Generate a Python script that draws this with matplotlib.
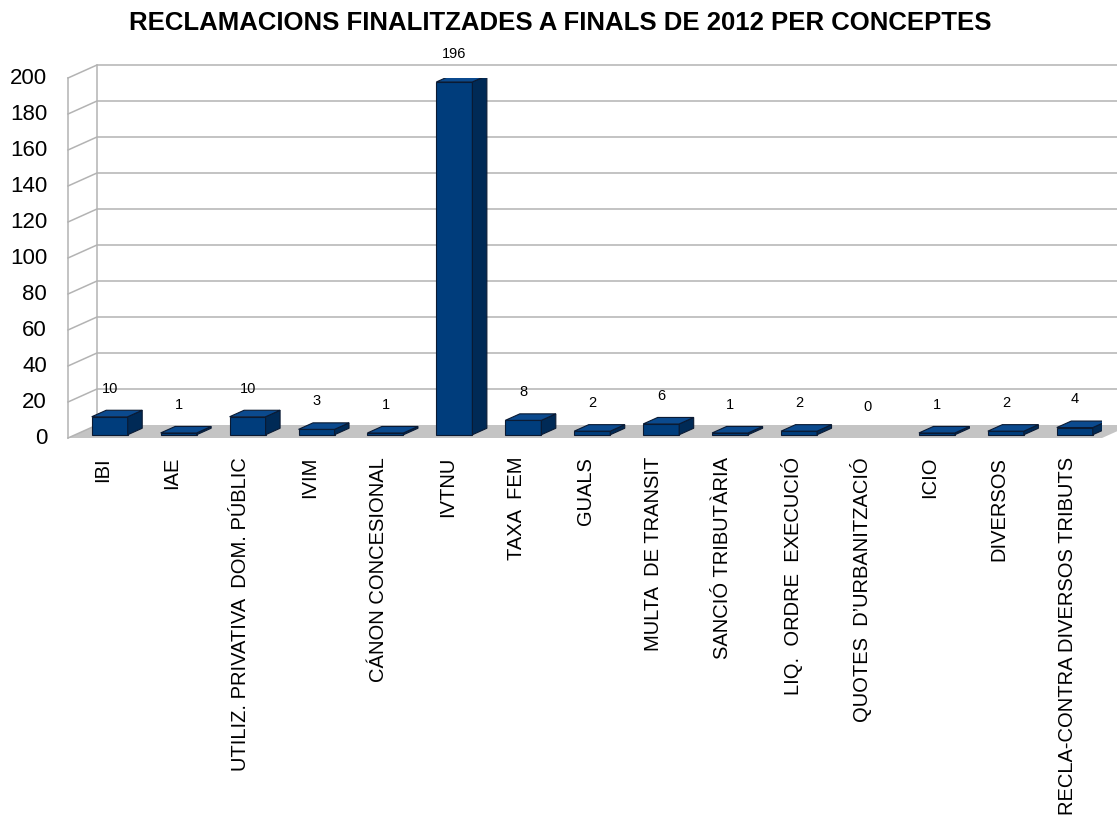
import matplotlib
matplotlib.use("Agg")
import matplotlib.pyplot as plt
from matplotlib.patches import Polygon

plt.rcParams['font.family'] = ['Liberation Sans', 'DejaVu Sans']

title = "RECLAMACIONS FINALITZADES A FINALS DE 2012 PER CONCEPTES"
categories = ["IBI", "IAE", "UTILIZ. PRIVATIVA  DOM. PÚBLIC", "IVIM", "CÁNON CONCESIONAL",
              "IVTNU", "TAXA  FEM", "GUALS", "MULTA  DE TRANSIT", "SANCIÓ TRIBUTÀRIA",
              "LIQ.  ORDRE  EXECUCIÓ", "QUOTES  D’URBANITZACIÓ", "ICIO", "DIVERSOS",
              "RECLA-CONTRA DIVERSOS TRIBUTS"]
values = [10, 1, 10, 3, 1, 196, 8, 2, 6, 1, 2, 0, 1, 2, 4]
yticks = [0, 20, 40, 60, 80, 100, 120, 140, 160, 180, 200]

W, H = 1117, 821
fig = plt.figure(figsize=(W / 100, H / 100), dpi=100)
x0p, x1p, y0p, y1p = 68, 1102, 438, 78
ax = fig.add_axes([x0p / W, (H - y0p) / H, (x1p - x0p) / W, (y0p - y1p) / H])
n = len(categories)
xmin, xmax = -0.5, n - 0.5
ymin, ymax = 0, 200
ax.set_xlim(xmin, xmax)
ax.set_ylim(ymin, ymax)
ax.axis('off')

pxu = (x1p - x0p) / (xmax - xmin)
pyu = (y0p - y1p) / (ymax - ymin)
Dx, Dy = 29 / pxu, 13 / pyu

grid_c = '#b3b3b3'
# floor
ax.add_patch(Polygon([(xmin, 0), (xmax, 0), (xmax + Dx, Dy), (xmin + Dx, Dy)],
                     closed=True, facecolor='#c4c4c4', edgecolor='none', clip_on=False, zorder=1))
# gridlines on back wall and left wall
for v in yticks:
    if v > 0:
        ax.plot([xmin, xmin + Dx, xmax + Dx], [v, v + Dy, v + Dy], color=grid_c, lw=1.1,
                clip_on=False, zorder=2)
ax.plot([xmin, xmin], [0, ymax], color=grid_c, lw=1.1, clip_on=False, zorder=2)
ax.plot([xmin + Dx, xmin + Dx], [Dy, ymax + Dy], color=grid_c, lw=1.1, clip_on=False, zorder=2)
ax.plot([xmin, xmin + Dx], [0, Dy], color=grid_c, lw=1.1, clip_on=False, zorder=2)

# y tick labels
for v in yticks:
    ax.text(xmin - 21 / pxu, v, str(v), ha='right', va='center', fontsize=16, color='black')

front_c, side_c, top_c, edge_c = '#003d7c', '#002a56', '#0b4a8e', '#0a1a33'
bw = 36 / pxu
for i, v in enumerate(values):
    cx = i + 0.25 * Dx
    b = 0.25 * Dy
    xl, xr = cx - bw / 2, cx + bw / 2
    dx, dy = 0.5 * Dx, 0.5 * Dy
    if v > 0:
        ax.bar(cx, v, width=bw, bottom=b, color=front_c, edgecolor=edge_c, linewidth=0.8, zorder=3)
        ax.add_patch(Polygon([(xr, b), (xr + dx, b + dy), (xr + dx, b + v + dy), (xr, b + v)],
                             closed=True, facecolor=side_c, edgecolor=edge_c, lw=0.8, zorder=3))
        ax.add_patch(Polygon([(xl, b + v), (xr, b + v), (xr + dx, b + v + dy), (xl + dx, b + v + dy)],
                             closed=True, facecolor=top_c, edgecolor=edge_c, lw=0.8, zorder=3))
    ax.text(cx, v + 17.5, str(v), ha='center', va='center', fontsize=10.5, color='black', zorder=4)
    ax.text(i, -10.5, categories[i], rotation=90, ha='center', va='top', fontsize=14.5,
            color='black')

fig.text(560 / W, 1 - 23 / H, title, ha='center', va='center', fontsize=18.5,
         fontweight='bold', color='black')

fig.savefig('out.png', dpi=100, facecolor='white')
